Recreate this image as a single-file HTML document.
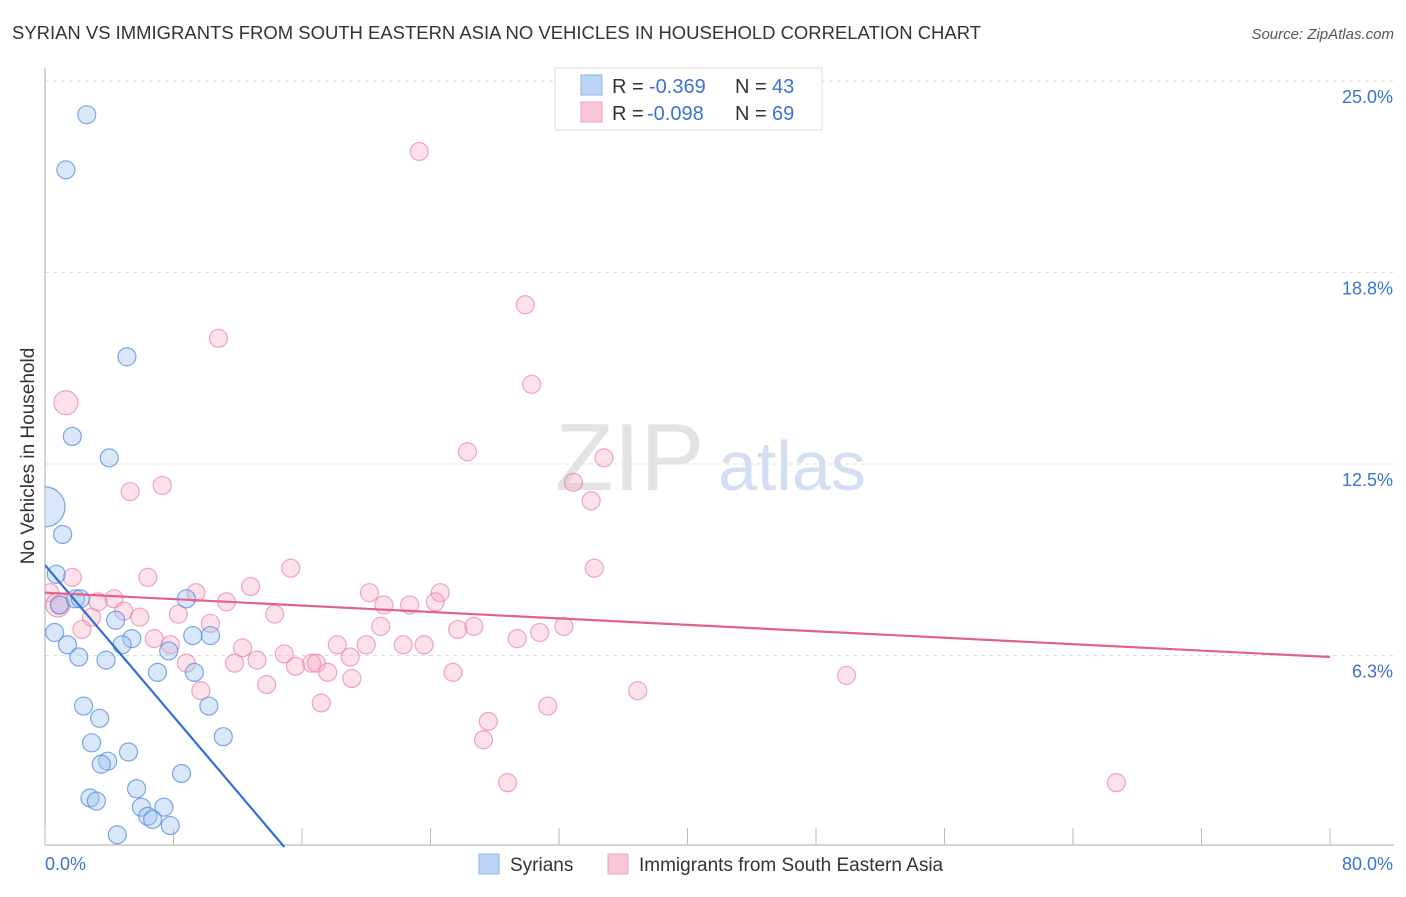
<!DOCTYPE html>
<html><head><meta charset="utf-8">
<style>
body{margin:0;background:#fff;font-family:"Liberation Sans",sans-serif;}
svg text{font-family:"Liberation Sans",sans-serif;}
</style></head>
<body>
<svg id="chart" width="1406" height="892" xmlns="http://www.w3.org/2000/svg">
<defs><clipPath id="plotclip"><rect x="45" y="60" width="1360" height="790"/></clipPath></defs>
<text x="12" y="39" font-size="18" fill="#333" textLength="969" lengthAdjust="spacingAndGlyphs">SYRIAN VS IMMIGRANTS FROM SOUTH EASTERN ASIA NO VEHICLES IN HOUSEHOLD CORRELATION CHART</text>
<text x="1394" y="39" font-size="15" fill="#555" text-anchor="end" font-style="italic">Source: ZipAtlas.com</text>
<text x="555" y="490" font-size="96" font-family="Liberation Serif" fill="#ddd" opacity="0.8">ZIP</text>
<text x="718" y="490" font-size="70" fill="#c8d8ef" opacity="0.8">atlas</text>
<text transform="translate(34,456) rotate(-90)" font-size="19" fill="#333" text-anchor="middle">No Vehicles in Household</text>
<g id="grid"></g><g id="marks" clip-path="url(#plotclip)"></g>
<g>
<rect x="555" y="68" width="267" height="62" fill="#fff" stroke="#ddd"/>
<rect x="581" y="75" width="21" height="20" fill="#bcd4f5" stroke="#8fb4e8"/>
<rect x="581" y="102" width="21" height="20" fill="#f9c6d5" stroke="#f0a0b8"/>
<text x="612" y="93" font-size="20" fill="#333">R =</text>
<text x="649" y="93" font-size="20" fill="#3b73d1">-0.369</text>
<text x="735" y="93" font-size="20" fill="#333">N =</text>
<text x="772" y="93" font-size="20" fill="#3b73d1">43</text>
<text x="612" y="120" font-size="20" fill="#333">R =</text>
<text x="647" y="120" font-size="20" fill="#3b73d1">-0.098</text>
<text x="735" y="120" font-size="20" fill="#333">N =</text>
<text x="772" y="120" font-size="20" fill="#3b73d1">69</text>
</g>
<g>
<rect x="479" y="854" width="20" height="20" fill="#bcd4f5" stroke="#8fb4e8"/>
<text x="510" y="871" font-size="19" fill="#333">Syrians</text>
<rect x="608" y="854" width="20" height="20" fill="#f9c6d5" stroke="#f0a0b8"/>
<text x="639" y="871" font-size="19" fill="#333">Immigrants from South Eastern Asia</text>
</g>
</svg>
<script>
const xTicks=[0,8,16,24,32,40,48,56,64,72,80];
const yTicks=[6.25,12.5,18.75,25];
const yTickLabels=["6.3%","12.5%","18.8%","25.0%"];
const blueX=[2.6,1.3,5.1,1.7,4.0,0,1.1,0.7,0.9,1.9,2.2,4.4,0.6,1.4,5.4,4.8,8.8,9.2,10.3,7.7,2.1,3.8,7.0,9.3,2.4,3.4,10.2,11.1,2.9,5.2,3.9,3.5,8.5,5.7,2.8,3.2,6.0,7.4,6.4,6.7,7.8,4.5];
const blueY=[23.9,22.1,16.0,13.4,12.7,11.1,10.2,8.9,7.9,8.1,8.1,7.4,7.0,6.6,6.8,6.6,8.1,6.9,6.9,6.4,6.2,6.1,5.7,5.7,4.6,4.2,4.6,3.6,3.4,3.1,2.8,2.7,2.4,1.9,1.6,1.5,1.3,1.3,1.0,0.9,0.7,0.4];
const blueR=[9,9,9,9,9,20,9,9,9,9,9,9,9,9,9,9,9,9,9,9,9,9,9,9,9,9,9,9,9,9,9,9,9,9,9,9,9,9,9,9,9,9];
const pinkX=[23.3,29.9,10.8,30.3,1.3,26.3,34.8,32.9,5.3,7.3,34.0,15.3,34.2,1.7,6.4,12.8,9.4,24.6,20.2,0.3,0.9,3.3,4.3,4.9,11.3,21.1,22.7,24.3,8.3,14.3,5.9,2.9,2.3,10.3,20.9,26.7,32.3,25.7,30.8,29.4,6.8,7.8,12.3,18.2,20.0,22.3,23.6,14.9,19.0,8.8,11.8,13.2,15.6,16.6,16.9,17.6,25.4,19.1,13.8,9.7,36.9,49.9,17.2,31.3,27.6,27.3,28.8,66.7,0.8];
const pinkY=[22.7,17.7,16.6,15.1,14.5,12.9,12.7,11.9,11.6,11.8,11.3,9.1,9.1,8.8,8.8,8.5,8.3,8.3,8.3,8.3,7.9,8.0,8.1,7.7,8.0,7.9,7.9,8.0,7.6,7.6,7.5,7.5,7.1,7.3,7.2,7.2,7.2,7.1,7.0,6.8,6.8,6.6,6.5,6.6,6.6,6.6,6.6,6.3,6.2,6.0,6.0,6.1,5.9,6.0,6.0,5.7,5.7,5.5,5.3,5.1,5.1,5.6,4.7,4.6,4.1,3.5,2.1,2.1,7.9];
const blueTrend=[[0,9.2],[14.9,0]];
const pinkTrend=[[0,8.3],[80,6.2]];
const X0=45,X1=1330,Y0=847,PPY=30.64;
const sx=v=>X0+(X1-X0)*v/80, sy=v=>Y0-v*PPY;
const NS="http://www.w3.org/2000/svg";
function mk(tag,attrs,parent){const e=document.createElementNS(NS,tag);for(const k in attrs)e.setAttribute(k,attrs[k]);parent.appendChild(e);return e;}
const grid=document.getElementById('grid'), marks=document.getElementById('marks');
yTicks.forEach((t,i)=>{
 const l=mk('line',{x1:X0,x2:1394,y1:sy(t),y2:sy(t),stroke:'#ddd','stroke-dasharray':'4,4'},grid);
 
 
 const tx=mk('text',{x:1393,y:sy(t)+22,'font-size':18,fill:'#3b73d1','text-anchor':'end'},grid);
 tx.textContent=yTickLabels[i];
 
 
});
const ax=mk('line',{x1:X0,x2:X0,y1:68,y2:845,stroke:'#aaa'},grid);


const bx=mk('line',{x1:X0,x2:1394,y1:845,y2:845,stroke:'#aaa'},grid);


xTicks.forEach(t=>{
 const l=mk('line',{x1:sx(t),x2:sx(t),y1:828,y2:845,stroke:'#bbb'},grid);
 
 
});
[[0,"0.0%",'start',X0],[80,"80.0%",'end',1393]].forEach(a=>{
 const tx=mk('text',{x:a[3],y:870,'font-size':18,fill:'#3b73d1','text-anchor':a[2]},grid);
 tx.textContent=a[1];
 
 
});
pinkX.forEach((v,i)=>{
 const c=mk('circle',{cx:sx(v),cy:sy(pinkY[i]),r:(i==4||i==68)?12:9,fill:'rgba(246,170,195,0.35)',stroke:'rgba(232,130,165,0.7)','stroke-width':1.2},marks);
 
 
});
blueX.forEach((v,i)=>{
 const c=mk('circle',{cx:sx(v),cy:sy(blueY[i]),r:blueR[i],fill:'rgba(160,195,240,0.4)',stroke:'rgba(80,140,220,0.75)','stroke-width':1.2},marks);
 
 
});
const bl=mk('line',{x1:sx(blueTrend[0][0]),y1:sy(blueTrend[0][1]),x2:sx(blueTrend[1][0]),y2:sy(blueTrend[1][1]),stroke:'#2f6fd6','stroke-width':2.2},marks);


const pl=mk('line',{x1:sx(pinkTrend[0][0]),y1:sy(pinkTrend[0][1]),x2:sx(pinkTrend[1][0]),y2:sy(pinkTrend[1][1]),stroke:'#e4608c','stroke-width':2.2},marks);


</script>
</body></html>
